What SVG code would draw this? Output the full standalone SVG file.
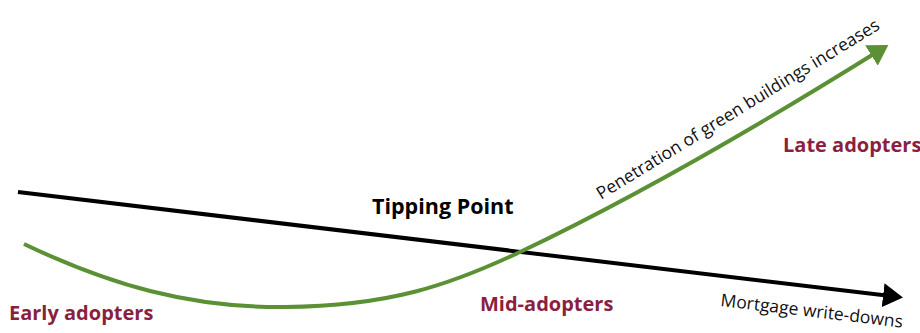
<svg xmlns="http://www.w3.org/2000/svg" width="920" height="333" viewBox="0 0 920 333">
<style>
.lbl{font-family:"Open Sans","Liberation Sans",sans-serif;font-weight:bold;font-size:20px;fill:#8B1F3F}
.axis{font-family:"Open Sans","Liberation Sans",sans-serif;font-size:17.5px;fill:#111}
.tp{font-family:"Open Sans","Liberation Sans",sans-serif;font-weight:bold;font-size:21.5px;fill:#000}
</style>
<defs>
<marker id="ab" markerWidth="6" markerHeight="6" refX="4" refY="3" orient="auto" markerUnits="strokeWidth"><path d="M0,0 L5,3 L0,6 z" fill="#000"/></marker>
<marker id="ag" markerWidth="6" markerHeight="6" refX="4" refY="3" orient="auto" markerUnits="strokeWidth"><path d="M0,0 L5,3 L0,6 z" fill="#5B9134"/></marker>
</defs>
<rect width="920" height="333" fill="#fff"/>
<g id="connectors">
<path id="writedowns" d="M18,192 L899,297" stroke="#000" stroke-width="4" fill="none" marker-end="url(#ab)"/>
<path id="penetration" d="M24,244 C110,285 190,308 285,307 C390,306 450,285 520,252 C640,195 765,122 885,47" stroke="#5B9134" stroke-width="4" fill="none" marker-end="url(#ag)"/>
</g>
<g id="tipping-point"><text class="tp" x="372" y="214">Tipping Point</text></g>
<g id="early-adopters"><text class="lbl" x="9" y="320">Early adopters</text></g>
<g id="mid-adopters"><text class="lbl" x="480" y="311">Mid-adopters</text></g>
<g id="late-adopters"><text class="lbl" x="783" y="152">Late adopters</text></g>
<g id="axis-labels">
<text class="axis" transform="translate(720,306) rotate(6.8)">Mortgage write-downs</text>
<text class="axis" transform="translate(601,200) rotate(-31.5)">Penetration of green buildings increases</text>
</g>
</svg>
